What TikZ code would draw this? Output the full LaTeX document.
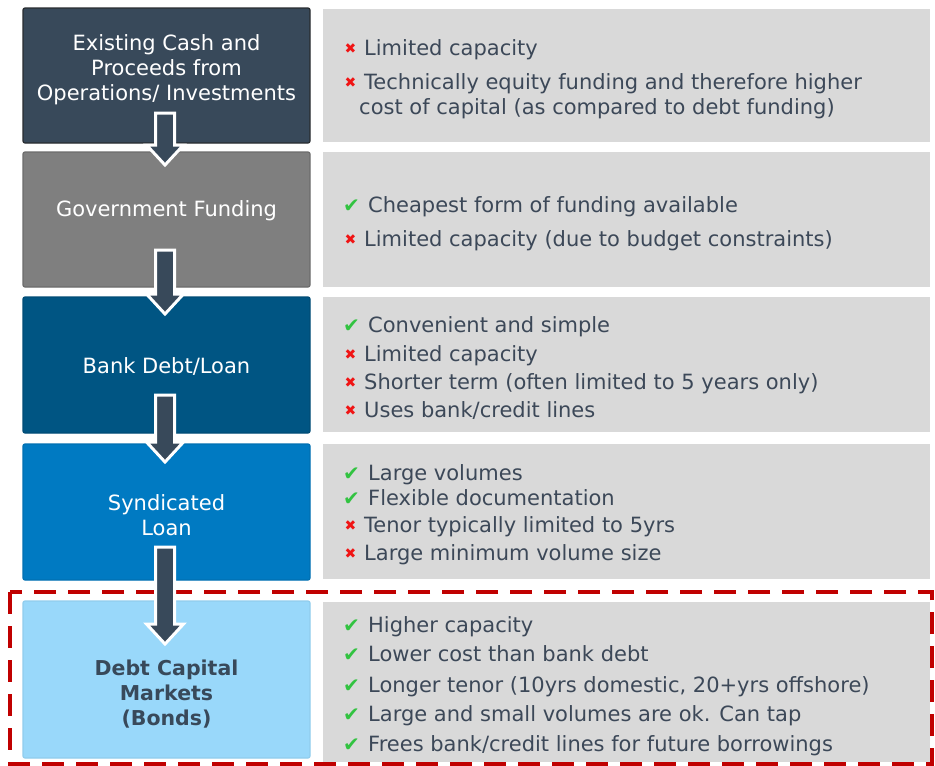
\documentclass[tikz,border=0pt]{standalone}
\usepackage{fontspec}
\setmainfont{DejaVu Sans}
\usetikzlibrary{calc}
\definecolor{cA}{RGB}{56,73,90}
\definecolor{cAb}{RGB}{40,44,48}
\definecolor{cB}{RGB}{127,127,127}
\definecolor{cBb}{RGB}{108,108,108}
\definecolor{cC}{RGB}{0,85,131}
\definecolor{cD}{RGB}{0,122,194}
\definecolor{cE}{RGB}{153,216,250}
\definecolor{gbox}{RGB}{217,217,217}
\definecolor{txt}{RGB}{60,72,88}
\definecolor{okgreen}{RGB}{50,195,65}
\definecolor{nored}{RGB}{240,20,20}
\definecolor{dred}{RGB}{192,0,0}
\newcommand{\xok}{\makebox[25pt][l]{\textcolor{okgreen}{\fontsize{20}{20}\selectfont ✔}}}
\newcommand{\xno}{\makebox[21pt][l]{\hspace{1.5pt}\textcolor{nored}{\fontsize{14}{14}\selectfont\raisebox{2pt}{✖}}}}
\newcommand{\blkarrow}[2]{\draw[blockarr] let \p1=(#1), \p2=(#2) in (\x1-9.5,\y1) -- (\x1+9.5,\y1) -- (\x1+9.5,\y2+20) -- (\x1+18.5,\y2+20) -- (\x1,\y2) -- (\x1-18.5,\y2+20) -- (\x1-9.5,\y2+20) -- cycle;}
\tikzset{
  lbox/.style={minimum width=287pt, inner sep=0pt, rounded corners=2pt, line width=1.2pt},
  rbox/.style={fill=gbox, minimum width=607pt, inner sep=0pt},
  ltxt/.style={text=white, align=center, font=\fontsize{21}{25}\selectfont, inner sep=0pt},
  item/.style={text=txt, font=\fontsize{21}{25}\selectfont, anchor=base west, inner sep=0pt},
  blockarr/.style={fill=cA, draw=white, line width=3pt, line join=miter},
  dashred/.style={draw=dred, line width=4pt, dash pattern=on 22pt off 12pt}
}
\begin{document}
\begin{tikzpicture}[x=1pt,y=-1pt]
\useasboundingbox[fill=white] (0,0) rectangle (935,766);
% dashed frame
\draw[dashred] (10,592) rectangle (932,764);
% left boxes
\node[lbox, fill=cA, draw=cAb, minimum height=135pt] (L1) at (166.5,75.5) {};
\node[lbox, fill=cB, draw=cBb, minimum height=135pt] (L2) at (166.5,219.5) {};
\node[lbox, fill=cC, draw=cC!90!black, minimum height=136pt] (L3) at (166.5,365) {};
\node[lbox, fill=cD, draw=cD!92!black, minimum height=136pt] (L4) at (166.5,512) {};
\node[lbox, fill=cE, draw=cE!95!black, minimum height=157pt] (L5) at (166.5,679.5) {};
% right boxes
\node[rbox, minimum height=133pt] (R1) at (626.5,75.5) {};
\node[rbox, minimum height=135pt] (R2) at (626.5,219.5) {};
\node[rbox, minimum height=135pt] (R3) at (626.5,364.5) {};
\node[rbox, minimum height=135pt] (R4) at (626.5,511.5) {};
\node[rbox, minimum height=160pt] (R5) at (626.5,682) {};
% left texts
\node[ltxt] (T1) at (166.5,70) {Existing Cash and\\Proceeds from\\Operations/ Investments};
\node[ltxt] (T2) at (166.5,211) {Government Funding};
\node[ltxt] (T3) at (166.5,366) {Bank Debt/Loan};
\node[ltxt] (T4) at (166.5,515.5) {Syndicated\\Loan};
\node[ltxt, text=cA, font=\fontsize{20.5}{25}\selectfont\bfseries] (T5) at (166.5,694) {Debt Capital\\Markets\\(Bonds)};
% right items
\node[item] (i11) at (343,55) {\xno Limited capacity};
\node[item] (i12) at (343,89) {\xno Technically equity funding and therefore higher};
\node[item] (i13) at (359,114) {cost of capital (as compared to debt funding)};
\node[item] (i21) at (343,212) {\xok Cheapest form of funding available};
\node[item] (i22) at (343,246) {\xno Limited capacity (due to budget constraints)};
\node[item] (i31) at (343,332) {\xok Convenient and simple};
\node[item] (i32) at (343,361) {\xno Limited capacity};
\node[item] (i33) at (343,389) {\xno Shorter term (often limited to 5 years only)};
\node[item] (i34) at (343,417) {\xno Uses bank/credit lines};
\node[item] (i41) at (343,480) {\xok Large volumes};
\node[item] (i42) at (343,505) {\xok Flexible documentation};
\node[item] (i43) at (343,532) {\xno Tenor typically limited to 5yrs};
\node[item] (i44) at (343,560) {\xno Large minimum volume size};
\node[item] (i51) at (343,632) {\xok Higher capacity};
\node[item] (i52) at (343,661) {\xok Lower cost than bank debt};
\node[item] (i53) at (343,692) {\xok Longer tenor (10yrs domestic, 20+yrs offshore)};
\node[item] (i54) at (343,721) {\xok Large and small volumes are ok. Can tap};
\node[item] (i55) at (343,751) {\xok Frees bank/credit lines for future borrowings};
% arrows
\coordinate (a1s) at (165,113); \coordinate (a1e) at (165,165);
\coordinate (a2s) at (165,250); \coordinate (a2e) at (165,314);
\coordinate (a3s) at (165,395); \coordinate (a3e) at (165,462);
\coordinate (a4s) at (165,547); \coordinate (a4e) at (165,644);
\blkarrow{a1s}{a1e}
\blkarrow{a2s}{a2e}
\blkarrow{a3s}{a3e}
\blkarrow{a4s}{a4e}
\end{tikzpicture}
\end{document}
